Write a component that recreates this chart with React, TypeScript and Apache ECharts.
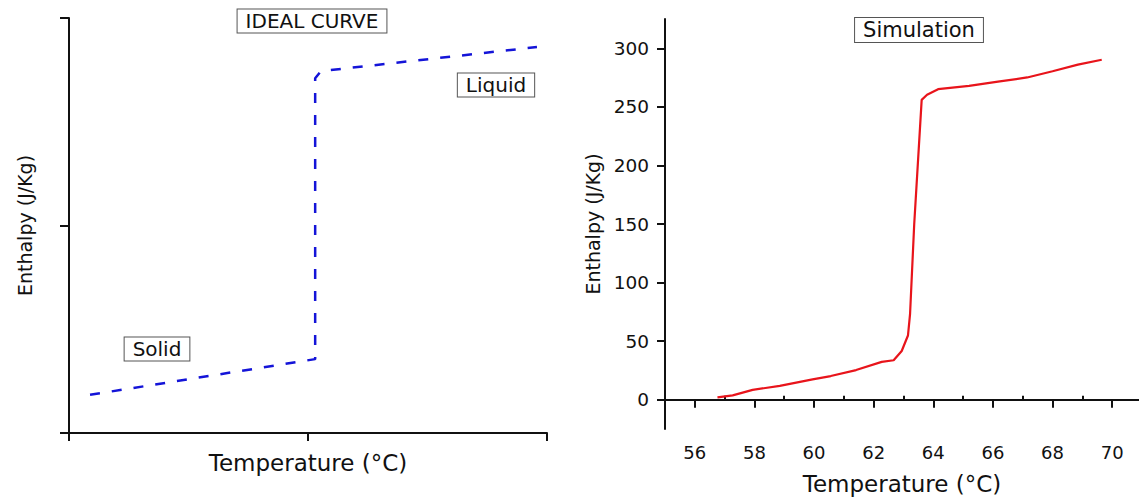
import React, { useEffect, useRef } from "react";
import * as echarts from "echarts";

// Ideal curve (arbitrary units, no tick labels)
const idealTemp = [0.44, 5.15, 5.15, 5.27, 9.79];
const idealEnthalpy = [0.92, 1.78, 8.55, 8.72, 9.3];

// Simulation curve
const simTemp = [
  56.76, 57.27, 57.94, 58.85, 59.95, 60.56, 61.41, 62.27, 62.67, 62.94, 63.15,
  63.22, 63.36, 63.61, 63.79, 64.16, 65.2, 66.17, 67.15, 68.0, 68.85, 69.65,
];
const simEnthalpy = [
  2.0, 3.7, 8.4, 11.8, 17.4, 20.2, 25.3, 32.3, 33.7, 41.6, 54.8, 73, 150, 256,
  260.3, 265.1, 267.9, 271.5, 275.1, 280.4, 286, 290.2,
];

const majorX = [56, 58, 60, 62, 64, 66, 68, 70];
const minorX = [57, 59, 61, 63, 65, 67, 69];
const majorY = [0, 50, 100, 150, 200, 250, 300];
const minorY = [-25, 25, 75, 125, 175, 225, 275, 325];

const FONT = "DejaVu Sans";

export default function App() {
  const ref = useRef<HTMLDivElement>(null);
  useEffect(() => {
    if (!ref.current) return;
    const chart = echarts.init(ref.current, null, { renderer: "svg" });
    const axisLine = { show: true, lineStyle: { color: "#111", width: 2 } };
    const nameStyle = { fontFamily: FONT, fontSize: 23, color: "#111" };
    const labelBox = (text: string, x: number, y: number, size: number) => ({
      type: "text",
      x,
      y,
      style: {
        text,
        x: 0,
        y: 0,
        align: "center",
        verticalAlign: "middle",
        fontFamily: FONT,
        fontSize: size,
        fill: "#111",
        backgroundColor: "#fff",
        borderColor: "#555",
        borderWidth: 1,
        padding: [2, 8, 1, 8],
      },
    });
    chart.setOption({
      animation: false,
      backgroundColor: "#fff",
      grid: [
        { left: 69, top: 18, width: 478, height: 415 },
        { left: 665, top: 19, width: 474, height: 413 },
      ],
      xAxis: [
        {
          gridIndex: 0,
          type: "value",
          min: 0,
          max: 10,
          interval: 5,
          axisLine,
          axisTick: { show: true, length: 8, lineStyle: { width: 2, color: "#111" } },
          axisLabel: { show: false },
          splitLine: { show: false },
          name: "Temperature (°C)",
          nameLocation: "middle",
          nameGap: 18,
          nameTextStyle: nameStyle,
        },
        {
          gridIndex: 1,
          type: "value",
          min: 55,
          max: 70.9,
          interval: 1,
          axisLine,
          axisTick: {
            show: true,
            customValues: majorX,
            length: 8,
            lineStyle: { width: 2, color: "#111" },
          },
          axisLabel: {
            customValues: majorX,
            fontFamily: FONT,
            fontSize: 18,
            color: "#111",
            margin: 14,
          },
          splitLine: { show: false },
          name: "Temperature (°C)",
          nameLocation: "middle",
          nameGap: 43,
          nameTextStyle: nameStyle,
        },
        {
          gridIndex: 1,
          type: "value",
          min: 55,
          max: 70.9,
          interval: 1,
          axisLine: { show: false },
          axisTick: {
            show: true,
            customValues: minorX,
            length: 4,
            lineStyle: { width: 2, color: "#111" },
          },
          axisLabel: { show: false },
          splitLine: { show: false },
        },
      ],
      yAxis: [
        {
          gridIndex: 0,
          type: "value",
          min: 0,
          max: 10,
          interval: 5,
          axisLine,
          axisTick: { show: true, length: 9, lineStyle: { width: 2, color: "#111" } },
          axisLabel: { show: false },
          splitLine: { show: false },
          name: "Enthalpy (J/Kg)",
          nameLocation: "middle",
          nameGap: 35,
          nameRotate: 90,
          nameTextStyle: { ...nameStyle, fontSize: 19 },
        },
        {
          gridIndex: 1,
          type: "value",
          min: -25,
          max: 325,
          interval: 25,
          axisLine,
          axisTick: {
            show: true,
            customValues: majorY,
            length: 8,
            lineStyle: { width: 2, color: "#111" },
          },
          axisLabel: {
            customValues: majorY,
            fontFamily: FONT,
            fontSize: 18.5,
            color: "#111",
            margin: 16,
          },
          splitLine: { show: false },
          name: "Enthalpy (J/Kg)",
          nameLocation: "middle",
          nameGap: 63,
          nameRotate: 90,
          nameTextStyle: { ...nameStyle, fontSize: 19 },
        },
        {
          gridIndex: 1,
          type: "value",
          min: -25,
          max: 325,
          interval: 25,
          axisLine: { show: false },
          axisTick: {
            show: true,
            customValues: minorY,
            length: 4,
            lineStyle: { width: 2, color: "#111" },
          },
          axisLabel: { show: false },
          splitLine: { show: false },
        },
      ],
      series: [
        {
          type: "line",
          xAxisIndex: 0,
          yAxisIndex: 0,
          data: idealTemp.map((t, i) => [t, idealEnthalpy[i]]),
          symbol: "none",
          lineStyle: { color: "#1414d8", width: 2.5, type: [10, 12] },
        },
        {
          type: "line",
          xAxisIndex: 1,
          yAxisIndex: 1,
          data: simTemp.map((t, i) => [t, simEnthalpy[i]]),
          symbol: "none",
          lineStyle: { color: "#e8141b", width: 2.2 },
        },
      ],
      graphic: [
        labelBox("IDEAL CURVE", 312, 21, 20),
        labelBox("Liquid", 496, 85, 20),
        labelBox("Solid", 157, 349, 20),
        labelBox("Simulation", 919, 30, 21),
      ],
    });
    return () => chart.dispose();
  }, []);
  return (
    <div
      ref={ref}
      style={{ position: "absolute", left: 0, top: 0, width: 1139, height: 500 }}
    />
  );
}
